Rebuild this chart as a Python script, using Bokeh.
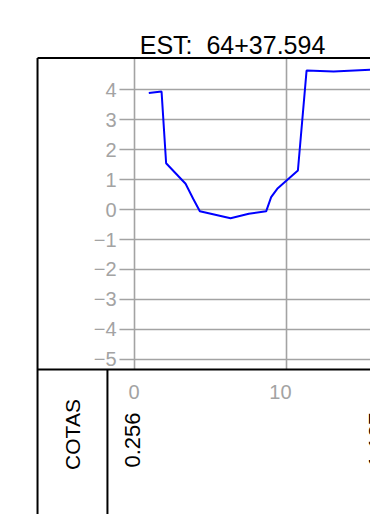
import math
from bokeh.plotting import figure
from bokeh.models import Range1d
from bokeh.core.properties import value
from bokeh.embed import file_html
from bokeh.resources import INLINE

# ---- data ----
title_text = "EST:\u00a0\u00a064+37.594"
profile_x = [0.94, 1.78, 2.08, 3.36, 3.86, 4.30, 6.32, 7.52, 8.66, 8.99, 9.39, 10.75, 11.32, 13.10, 15.50, 16.50]
profile_y = [3.88, 3.93, 1.54, 0.86, 0.36, -0.06, -0.29, -0.14, -0.06, 0.41, 0.69, 1.30, 4.63, 4.60, 4.66, 4.66]
y_ticks = [-5, -4, -3, -2, -1, 0, 1, 2, 3, 4]
y_tick_labels = ["\u22125", "\u22124", "\u22123", "\u22122", "\u22121", "0", "1", "2", "3", "4"]
x_ticks = [0, 10]
x_tick_labels = ["0", "10"]
cota_x = [-0.1, 15.9]
cota_labels = ["0.256", "1.137"]
row_label = "COTAS"

# ---- layout (data units) ----
X0, X1 = -8.816, 15.526
Y0, Y1 = -10.167, 6.967
frame_left = -6.38
col_div = -1.78
plot_top = 5.05
plot_bot = -5.33
grid_start = -0.99
right_edge = 17.0

GRID = "#a3a3a3"
FONT = value("Liberation Sans")

p = figure(width=370, height=514, output_backend="svg", toolbar_location=None,
           x_range=Range1d(X0, X1), y_range=Range1d(Y0, Y1), min_border=0)
p.axis.visible = False
p.grid.visible = False
p.outline_line_color = None
p.background_fill_color = "white"
p.border_fill_color = "white"

# horizontal grid lines
p.segment(x0=[grid_start] * len(y_ticks), y0=y_ticks, x1=[right_edge] * len(y_ticks), y1=y_ticks,
          line_color=GRID, line_width=1.6)
# vertical grid lines
p.segment(x0=x_ticks, y0=[plot_top] * len(x_ticks), x1=x_ticks, y1=[plot_bot] * len(x_ticks),
          line_color=GRID, line_width=1.6)

# frame
p.segment(x0=[frame_left, frame_left, frame_left, col_div],
          y0=[plot_top, plot_top, plot_bot, plot_bot],
          x1=[right_edge, frame_left, right_edge, col_div],
          y1=[plot_top, Y0 - 1, plot_bot, Y0 - 1],
          line_color="black", line_width=2)

# profile
p.line(profile_x, profile_y, line_color="#0000ff", line_width=2)

# y tick labels
p.text(x=[-1.18] * len(y_ticks), y=y_ticks, text=y_tick_labels, text_align="right",
       text_baseline="middle", text_color=GRID, text_font_size="20px", text_font=FONT)
# x tick labels
p.text(x=[v + 0.33 for v in x_ticks], y=[-6.1] * len(x_ticks), text=x_tick_labels,
       text_align="right", text_baseline="middle", text_color=GRID,
       text_font_size="20px", text_font=FONT)

# title
p.text(x=[6.45], y=[5.5], text=[title_text], text_align="center", text_baseline="alphabetic",
       text_color="black", text_font_size="25px", text_font=FONT)

# row label
p.text(x=[-4.08], y=[-7.5], text=[row_label], angle=math.pi / 2, text_align="center",
       text_baseline="middle", text_color="black", text_font_size="21px", text_font=FONT)

# cota labels
p.text(x=cota_x, y=[-8.6] * len(cota_x), text=cota_labels, angle=math.pi / 2,
       text_align="left", text_baseline="middle", text_color="black",
       text_font_size="22px", text_font=FONT)

open("out.html", "w").write(file_html(p, INLINE))
